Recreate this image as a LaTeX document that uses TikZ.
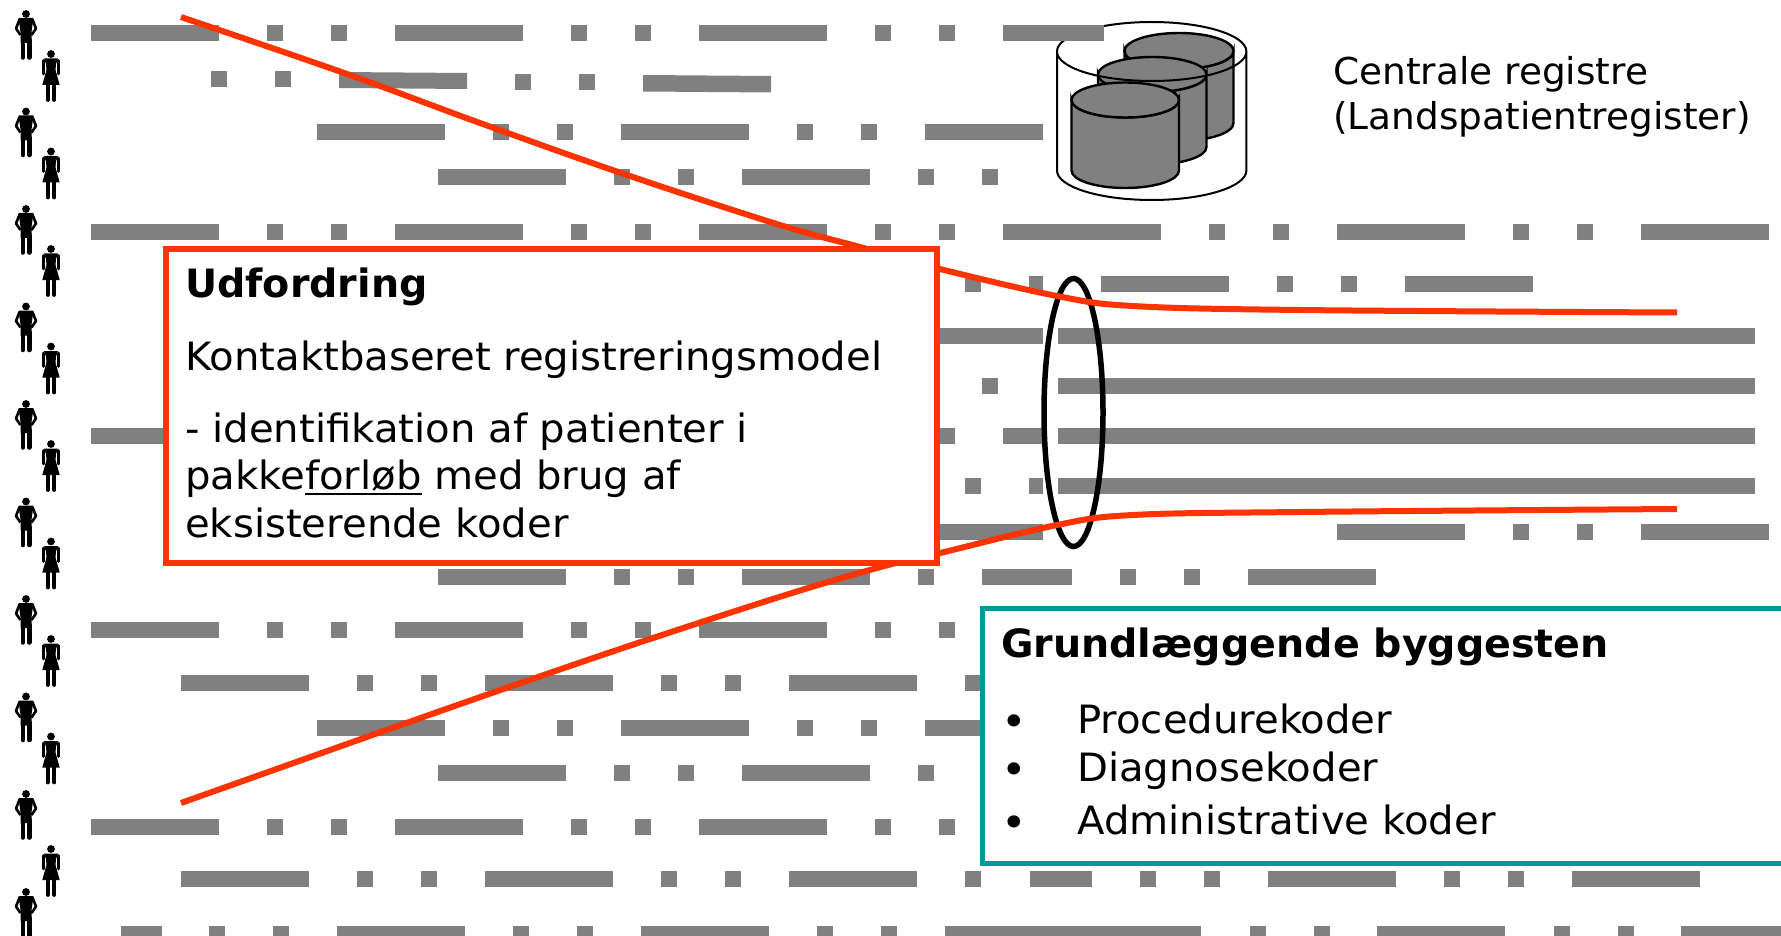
\documentclass[tikz,border=0pt]{standalone}
\usepackage{fontspec}
\setmainfont{DejaVu Sans}[FakeStretch=1.03,BoldFeatures={FakeStretch=1.015}]
\newfontfamily\regfont{DejaVu Sans}[FakeStretch=1.012]
\definecolor{barcol}{HTML}{808080}
\definecolor{redcol}{HTML}{FF3300}
\definecolor{tealcol}{HTML}{009999}
% one row of bars: top edge, then left/width pairs
\newcommand{\barrow}[2]{\foreach \x/\w in {#2}{\fill[barcol] (\x,#1) rectangle ++(\w,16);}}
\newcommand{\ulword}[1]{\setbox0\hbox{#1}\rlap{\rule[-6pt]{\wd0}{2.5pt}}\box0\relax}
\tikzset{
    txt/.style={font=\fontsize{39}{47}\selectfont, inner sep=0pt, anchor=base west},
    regtxt/.style={txt, font=\fontsize{37}{47}\selectfont\regfont},
    bullettxt/.style={txt, font=\fontsize{42}{47}\selectfont},
    man/.pic={
        \fill (0,4) circle (3.9);
        \fill (-7.5,8) -- (7.5,8) -- (5.5,22) -- (5.5,33) -- (-5.5,33) -- (-5.5,22) -- cycle;
        \draw[line width=2.6, line join=round] (-6.5,9.5) -- (-10,18.5) -- (-5.5,25);
        \draw[line width=2.6, line join=round] (6.5,9.5) -- (10,18.5) -- (5.5,25);
        \draw[line width=4.6, line cap=round] (-3.2,30) -- (-3.2,47.5);
        \draw[line width=4.6, line cap=round] (3.2,30) -- (3.2,47.5);
    },
    woman/.pic={
        \fill (0,4) circle (3.9);
        \fill (-7,8.5) -- (7,8.5) -- (5,14) -- (4.5,20) -- (8.7,35) -- (-8.7,35) -- (-4.5,20) -- (-5,14) -- cycle;
        \draw[line width=2.8, line cap=round] (-7.3,10.5) -- (-7.3,24);
        \draw[line width=2.8, line cap=round] (7.3,10.5) -- (7.3,24);
        \draw[line width=3.8, line cap=round] (-3.2,34) -- (-3.2,50);
        \draw[line width=3.8, line cap=round] (3.2,34) -- (3.2,50);
    },
    cyl/.style={fill=barcol, draw=black, line width=2.4}
}
\newcommand{\cylinder}[5]{% x1, x2, top centre, bottom centre, ry
    \draw[cyl] (#1,#3) -- (#1,#4) arc[start angle=180, end angle=360, x radius=(#2-#1)/2, y radius=-#5]
        -- (#2,#3) arc[start angle=360, end angle=180, x radius=(#2-#1)/2, y radius=-#5] -- cycle;
    \draw[cyl] ({(#1+#2)/2},#3) ellipse[x radius=(#2-#1)/2, y radius=#5];
}
\begin{document}
\begin{tikzpicture}[x=1pt,y=-1pt]
    \useasboundingbox (0,0) rectangle (1781,936);
    \clip (0,0) rectangle (1781,936);
    % people
    \foreach \y in {10,107.5,205,302.5,400,497.5,595,692.5,790,888} \pic at (26,\y) {man};
    \foreach \y in {50,147.5,245,342.5,440,537.5,635,732.5,845} \pic at (51,\y) {woman};
    % registers
    \cylinder{1124.5}{1233.5}{51}{123}{18}
    \cylinder{1098}{1206.5}{74.5}{147}{17.5}
    \cylinder{1071.5}{1179}{100}{170.5}{17.5}
    \draw[line width=2] (1057,51.5) -- (1057,170.5) arc[start angle=180, end angle=360, x radius=94.7, y radius=-29.5]
        -- (1246.4,51.5) arc[start angle=0, end angle=360, x radius=94.7, y radius=-29.5];
    % bars
    \barrow{25}{91/128,267/16,331/16,395/128,571/16,635/16,699/128,875/16,939/16,1003/101}
    \barrow{71}{211/16,275/16}
    \barrow{74}{515/16,579/16}
    \fill[barcol] (339,72) -- (467,73) -- (467,89) -- (339,88) -- cycle;
    \fill[barcol] (643,75) -- (771,76) -- (771,92.5) -- (643,91.5) -- cycle;
    \barrow{124}{317/128,493/16,557/16,621/128,797/16,861/16,925/118}
    \barrow{169}{438/128,614/16,678/16,742/128,918/16,982/16}
    \barrow{224}{91/128,267/16,331/16,395/128,571/16,635/16,699/128,875/16,939/16,1003/158,1209/16,1273/16,1337/128,1513/16,1577/16,1641/128}
    \barrow{276}{965/16,1029/14,1101/128,1277/16,1341/16,1405/128}
    \barrow{328}{915/128,1058/697}
    \barrow{378}{982/16,1058/697}
    \barrow{428}{91/128,939/16,1003/40,1058/697}
    \barrow{478}{965/16,1029/14,1058/697}
    \barrow{524}{915/128,1337/128,1513/16,1577/16,1641/128}
    \barrow{569}{438/128,614/16,678/16,742/128,918/16,982/90,1120/16,1184/16,1248/128}
    \barrow{622}{91/128,267/16,331/16,395/128,571/16,635/16,699/128,875/16,939/16}
    \barrow{675}{181/128,357/16,421/16,485/128,661/16,725/16,789/128,965/16}
    \barrow{720}{317/128,493/16,557/16,621/128,797/16,861/16,925/118}
    \barrow{765}{438/128,614/16,678/16,742/128,918/16}
    \barrow{819}{91/128,267/16,331/16,395/128,571/16,635/16,699/128,875/16,939/16}
    \barrow{871}{181/128,357/16,421/16,485/128,661/16,725/16,789/128,965/16,1029.5/62,1139.5/16,1203.5/16,1267.5/128,1443.5/16,1507.5/16,1571.5/128}
    \barrow{926}{121/40.5,209/16,273/16,337/128,513/16,577/16,641/128,817/16,881/16,945/256,1249.5/16,1313.5/16,1377/128,1553.5/16,1617.5/16,1681/100}
    % selection
    \draw[line width=5.5] (1073.5,412.5) ellipse[x radius=29.5, y radius=134];
    \draw[redcol, line width=6] plot[smooth, tension=0.6] coordinates {(181,17) (347,74) (480,123) (627,175) (780,225) (860,247) (940,269) (1057,296) (1133,306) (1300,310) (1677,312.5)};
    \draw[redcol, line width=6] plot[smooth, tension=0.6] coordinates {(181,803) (395,727) (538,677) (653,638) (792,593) (888,565) (940,553) (1057,525) (1133,515) (1300,512) (1677,509)};
    % boxes
    \node[draw=redcol, fill=white, line width=6, inner sep=0pt, outer sep=0pt, anchor=north west, minimum width=771, minimum height=313.5] (udfordring) at (166,249) {};
    \node[draw=tealcol, fill=white, line width=5, inner sep=0pt, outer sep=0pt, anchor=north west, minimum width=820, minimum height=255] (byggesten) at (982.5,608) {};
    % texts
    \node[regtxt] (registre) at (1333,85) {Centrale registre};
    \node[regtxt] (lpr) at (1333,130) {(Landspatientregister)};
    \node[txt] (udftitel) at (185,298) {\bfseries Udfordring};
    \node[txt] (kontakt) at (185,370) {Kontaktbaseret registreringsmodel};
    \node[txt] (linje1) at (185,442) {- identifikation af patienter i};
    \node[txt] (linje2) at (185,489) {pakke\ulword{forløb} med brug af};
    \node[txt] (linje3) at (185,537) {eksisterende koder};
    \node[txt] (byggtitel) at (1001,657) {\bfseries Grundlæggende byggesten};
    \node[txt] (kode1) at (1077,733) {Procedurekoder};
    \node[txt] (kode2) at (1077,781) {Diagnosekoder};
    \node[txt] (kode3) at (1077,834) {Administrative koder};
    \node[bullettxt] (bullet1) at (1001,736) {•};
    \node[bullettxt] (bullet2) at (1001,784) {•};
    \node[bullettxt] (bullet3) at (1001,837) {•};
\end{tikzpicture}
\end{document}
